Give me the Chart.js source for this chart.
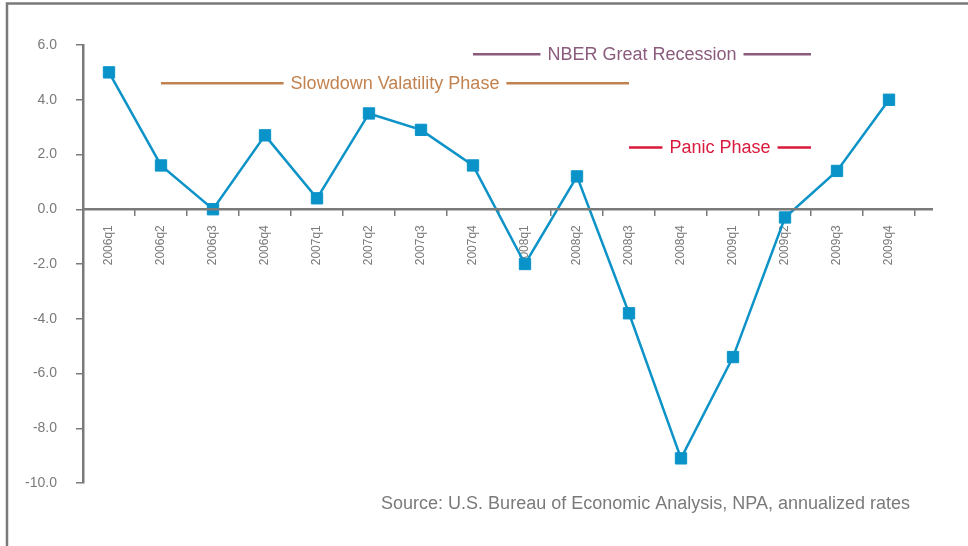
<!DOCTYPE html>
<html>
<head>
<meta charset="utf-8">
<title>Real GDP growth 2006-2009</title>
<script src="https://cdn.jsdelivr.net/npm/chart.js@4.4.1/dist/chart.umd.min.js"></script>
<style>
  html, body { margin: 0; padding: 0; background: #fff; }
  #wrap { width: 968px; height: 546px; position: relative; }
</style>
</head>
<body>
<div id="wrap"><canvas id="gdpChart"></canvas></div>
<script>
// Données du graphique
const quarters = ['2006q1', '2006q2', '2006q3', '2006q4', '2007q1', '2007q2', '2007q3', '2007q4',
  '2008q1', '2008q2', '2008q3', '2008q4', '2009q1', '2009q2', '2009q3', '2009q4'];
const gdpGrowth = [5.0, 1.6, 0.0, 2.7, 0.4, 3.5, 2.9, 1.6, -2.0, 1.2, -3.8, -9.1, -5.4, -0.3, 1.4, 4.0];
const yTickValues = [6, 4, 2, 0, -2, -4, -6, -8, -10];

// Phases (en indices de trimestre)
const phaseNames = ['NBER Great Recession', 'Slowdown Valatility Phase', 'Panic Phase'];
const phaseStart = [7, 1, 10];
const phaseEnd = [13.5, 10, 13.5];
const sourceNote = 'Source: U.S. Bureau of Economic Analysis, NPA, annualized rates';

const FONT = '"Liberation Sans", Arial, sans-serif';
const AXIS_GRAY = '#7a7a7a';
const TEXT_GRAY = '#7a7a7a';

// Style des phases : niveau vertical et couleur
const phaseStyles = [
  { level: 5.66, color: '#8a5b7c' },
  { level: 4.6, color: '#c2824f' },
  { level: 2.26, color: '#d91a3c' }
];

const extrasPlugin = {
  id: 'extras',
  afterDraw(chart) {
    const ctx = chart.ctx;
    const xs = chart.scales.x;
    const ys = chart.scales.y;
    const area = chart.chartArea;
    ctx.save();

    // cadre gris en haut et à gauche
    ctx.strokeStyle = AXIS_GRAY;
    ctx.lineWidth = 2.5;
    ctx.beginPath();
    ctx.moveTo(7, chart.height);
    ctx.lineTo(7, 3.5);
    ctx.lineTo(chart.width, 3.5);
    ctx.stroke();

    // axe horizontal à zéro
    const y0 = ys.getPixelForValue(0);
    ctx.lineWidth = 2.5;
    ctx.beginPath();
    ctx.moveTo(area.left, y0);
    ctx.lineTo(area.right + 18, y0);
    ctx.stroke();

    // annotations des phases
    ctx.font = '18px ' + FONT;
    ctx.textAlign = 'center';
    ctx.textBaseline = 'middle';
    phaseNames.forEach((name, i) => {
      const st = phaseStyles[i];
      const x1 = xs.getPixelForValue(phaseStart[i]);
      const x2 = xs.getPixelForValue(phaseEnd[i]);
      const y = ys.getPixelForValue(st.level);
      const mid = (x1 + x2) / 2;
      const half = ctx.measureText(name).width / 2;
      ctx.strokeStyle = st.color;
      ctx.lineWidth = 2.5;
      ctx.beginPath();
      ctx.moveTo(x1, y);
      ctx.lineTo(mid - half - 7, y);
      ctx.moveTo(mid + half + 7, y);
      ctx.lineTo(x2, y);
      ctx.stroke();
      ctx.fillStyle = st.color;
      ctx.fillText(name, mid, y + 1);
    });

    // source
    ctx.font = '18px ' + FONT;
    ctx.fillStyle = TEXT_GRAY;
    ctx.textAlign = 'right';
    ctx.fillText(sourceNote, area.right - 5, area.bottom + 21);
    ctx.restore();
  }
};

const ctx = document.getElementById('gdpChart').getContext('2d');

const gdpChart = new Chart(ctx, {
  type: 'line',
  data: {
    labels: quarters,
    datasets: [{
      label: 'Real GDP growth',
      data: gdpGrowth,
      borderColor: '#0d93c7',
      backgroundColor: '#0a93c9',
      borderWidth: 2.5,
      tension: 0,
      pointStyle: 'rect',
      pointRadius: 8,
      pointBorderWidth: 1,
      pointBorderColor: '#0a93c9',
      pointBackgroundColor: '#0a93c9'
    }]
  },
  options: {
    responsive: true,
    maintainAspectRatio: false,
    animation: false,
    layout: { padding: { top: 45, right: 53, bottom: 63, left: 0 } },
    plugins: {
      legend: { display: false },
      tooltip: { enabled: false }
    },
    scales: {
      x: {
        type: 'category',
        position: { y: 0 },
        offset: true,
        grid: { drawOnChartArea: false, drawTicks: true, tickLength: 7, color: AXIS_GRAY, lineWidth: 1.5, offset: true },
        border: { display: false },
        ticks: {
          color: TEXT_GRAY,
          font: { family: FONT, size: 12 },
          minRotation: 90,
          maxRotation: 90,
          autoSkip: false,
          padding: 9
        }
      },
      y: {
        min: -10,
        max: 6,
        afterFit(scale) { scale.width = 83; },
        afterBuildTicks(scale) { scale.ticks = yTickValues.map(v => ({ value: v })); },
        grid: { drawOnChartArea: false, tickLength: 7, color: AXIS_GRAY, lineWidth: 1.5 },
        border: { color: AXIS_GRAY, width: 2.5 },
        ticks: {
          color: TEXT_GRAY,
          font: { family: FONT, size: 14 },
          padding: 19,
          callback: v => v.toFixed(1)
        }
      }
    }
  },
  plugins: [extrasPlugin]
});
</script>
</body>
</html>
